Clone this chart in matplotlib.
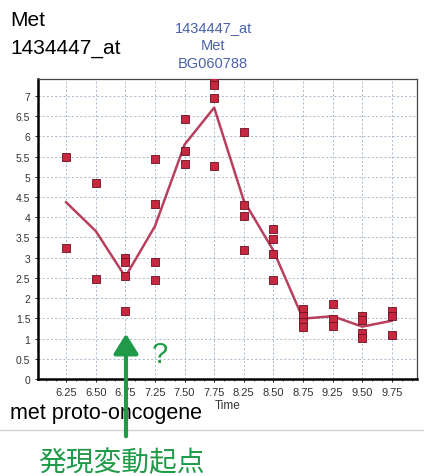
import numpy as np
import matplotlib
matplotlib.use("Agg")
import matplotlib.pyplot as plt
from matplotlib.ticker import MultipleLocator

plt.rcParams['font.family'] = ['Liberation Sans', 'Noto Sans CJK JP', 'DejaVu Sans']

## DATOS ##
times = ['6.25', '6.50', '6.75', '7.25', '7.50', '7.75',
         '8.25', '8.50', '8.75', '9.25', '9.50', '9.75']
reps = [
    [5.50, 3.24],
    [4.85, 2.47],
    [3.00, 2.90, 2.54, 1.67],
    [5.45, 4.32, 2.90, 2.44],
    [6.43, 5.64, 5.32],
    [7.35, 7.28, 6.96, 5.26],
    [6.10, 4.31, 4.03, 3.20],
    [3.71, 3.46, 3.09, 2.45],
    [1.74, 1.55, 1.40, 1.28],
    [1.85, 1.49, 1.32],
    [1.57, 1.47, 1.13, 1.01],
    [1.68, 1.55, 1.09],
]
yticks = np.arange(0, 7.01, 0.5)
ytick_labels = ['0', '0.5', '1', '1.5', '2', '2.5', '3', '3.5',
                '4', '4.5', '5', '5.5', '6', '6.5', '7']
## DATOS ##

fig = plt.figure(figsize=(4.24, 4.77), dpi=100)
ax = fig.add_axes([0.0896, 0.2034, 0.8939, 0.6289])

xs = np.arange(len(times))
means = [np.mean(r) for r in reps]
ax.plot(xs, means, c='#b8405e', lw=1.8, zorder=3)
for i, r in enumerate(reps):
    ax.scatter([i] * len(r), r, marker='s', s=32, c='#c8283f',
               edgecolors='#6a1020', linewidths=0.6, zorder=4)

ax.set_xlim(-0.95, 11.85)
ax.set_ylim(0, 7.42)
ax.set_xticks(xs)
ax.set_xticklabels(times, fontsize=8, color='#333333')
ax.set_yticks(yticks)
ax.set_yticklabels(ytick_labels, fontsize=7.5, color='#333333')
ax.xaxis.set_minor_locator(MultipleLocator(1 / 3))
ax.tick_params(axis='both', which='major', length=2, width=0.6)
ax.tick_params(axis='x', which='minor', length=1.5, width=0.5)
ax.grid(True, color='#9fb0c4', linestyle=(0, (2.5, 2.5)), lw=0.6)
for side in ['left', 'bottom']:
    ax.spines[side].set_linewidth(1.8)
for side in ['top', 'right']:
    ax.spines[side].set_linewidth(0.9)
    ax.spines[side].set_color('#444444')

# titulos
fig.text(10 / 424, 1 - 20 / 477, 'Met', fontsize=15, va='center', ha='left')
fig.text(10 / 424, 1 - 48 / 477, '1434447_at', fontsize=15, va='center', ha='left')
fig.text(213 / 424, 1 - 46 / 477, '1434447_at\nMet\nBG060788', fontsize=10.5,
         color='#4a62a8', ha='center', va='center', linespacing=1.35)
fig.text(228 / 424, 1 - 406 / 477, 'Time', fontsize=8.5, ha='center', va='center',
         color='#333333')
fig.text(10 / 424, 1 - 414 / 477, 'met proto-oncogene', fontsize=15.5,
         ha='left', va='center')

# linea separadora
fig.add_artist(plt.Line2D([0, 1], [1 - 431 / 477, 1 - 431 / 477],
                          color='#cfd4d0', lw=1.0, transform=fig.transFigure))

# anotaciones verdes
fig.add_artist(matplotlib.patches.FancyArrowPatch(
    (126 / 424, 1 - 440 / 477), (126 / 424, 1 - 332 / 477),
    transform=fig.transFigure, arrowstyle='-|>,head_length=8,head_width=5',
    color='#1e9a48', lw=3.0, mutation_scale=1.5, zorder=10))
fig.text(160 / 424, 1 - 355 / 477, '?', fontsize=21, color='#1e9a48',
         ha='center', va='center')
fig.text(38 / 424, 1 - 463 / 477, '発現変動起点', fontsize=20, color='#1e9a48',
         ha='left', va='center', family=['Noto Sans CJK JP', 'DejaVu Sans'])

plt.savefig('out.png', dpi=100)
